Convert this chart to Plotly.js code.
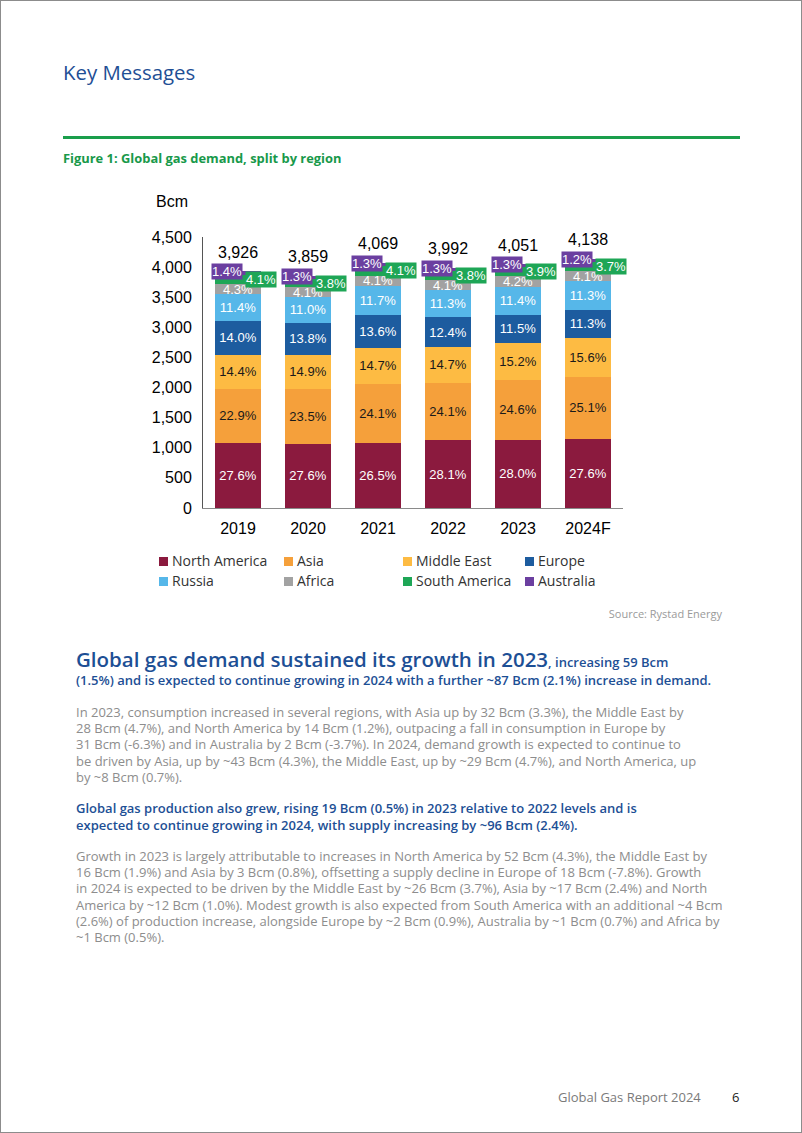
<!DOCTYPE html>
<html><head><meta charset="utf-8">
<script src="https://cdn.plot.ly/plotly-3.0.1.min.js"></script>
<style>
html,body{margin:0;padding:0;background:#fff;}
#page{position:relative;width:800px;height:1131px;border:1px solid #8c8c8c;overflow:hidden;font-family:"Open Sans","Noto Sans",sans-serif;background:#fff;}
.abs{position:absolute;white-space:nowrap;}
.body{font-size:13px;color:#8d8d8d;line-height:16.2px;}
.sub{font-size:13px;color:#1d4f95;font-weight:600;line-height:17px;}
.leg{position:absolute;font-size:14px;color:#333;line-height:18px;white-space:nowrap;}
.leg span.sq{position:absolute;left:-13px;top:5px;width:9px;height:9px;}
</style></head><body>
<div id="page">
 <div class="abs" style="left:62px;top:56px;font-size:20.4px;color:#1f4f95;line-height:30px;">Key Messages</div>
 <div class="abs" style="left:62px;top:135px;width:677px;height:3px;background:#1a9e4b;"></div>
 <div class="abs" style="left:62px;top:148px;font-size:12.9px;font-weight:700;color:#18994a;line-height:18px;">Figure 1: Global gas demand, split by region</div>
 <div id="chart" class="abs" style="left:0;top:184px;width:800px;height:360px;"></div>
 <div id="legend"></div>
 <div class="abs" style="right:79px;top:605px;font-size:11px;color:#9a9a9a;line-height:16px;">Source: Rystad Energy</div>

 <div class="abs" style="left:75px;top:647px;color:#1d4f95;font-weight:600;line-height:22px;"><span style="font-size:20.5px;">Global gas demand sustained its growth in 2023</span><span style="font-size:13px;">, increasing 59 Bcm</span></div>
 <div class="abs sub" style="left:75px;top:671px;line-height:16px;">(1.5%) and is expected to continue growing in 2024 with a further ~87 Bcm (2.1%) increase in demand.</div>

 <div class="abs body" style="left:75px;top:703px;">In 2023, consumption increased in several regions, with Asia up by 32 Bcm (3.3%), the Middle East by<br>28 Bcm (4.7%), and North America by 14 Bcm (1.2%), outpacing a fall in consumption in Europe by<br>31 Bcm (-6.3%) and in Australia by 2 Bcm (-3.7%). In 2024, demand growth is expected to continue to<br>be driven by Asia, up by ~43 Bcm (4.3%), the Middle East, up by ~29 Bcm (4.7%), and North America, up<br>by ~8 Bcm (0.7%).</div>

 <div class="abs sub" style="left:75px;top:799px;">Global gas production also grew, rising 19 Bcm (0.5%) in 2023 relative to 2022 levels and is<br>expected to continue growing in 2024, with supply increasing by ~96 Bcm (2.4%).</div>

 <div class="abs body" style="left:75px;top:847px;">Growth in 2023 is largely attributable to increases in North America by 52 Bcm (4.3%), the Middle East by<br>16 Bcm (1.9%) and Asia by 3 Bcm (0.8%), offsetting a supply decline in Europe of 18 Bcm (-7.8%). Growth<br>in 2024 is expected to be driven by the Middle East by ~26 Bcm (3.7%), Asia by ~17 Bcm (2.4%) and North<br>America by ~12 Bcm (1.0%). Modest growth is also expected from South America with an additional ~4 Bcm<br>(2.6%) of production increase, alongside Europe by ~2 Bcm (0.9%), Australia by ~1 Bcm (0.7%) and Africa by<br>~1 Bcm (0.5%).</div>

 <div class="abs" style="left:557px;top:1087px;font-size:13px;color:#7a7a7a;line-height:18px;">Global Gas Report 2024</div>
 <div class="abs" style="left:731px;top:1087px;font-size:13px;color:#222;line-height:18px;">6</div>
</div>
<script>
// ---- data (Bcm) ----
const years = ['2019','2020','2021','2022','2023','2024F'];
const totals = [3926, 3859, 4069, 3992, 4051, 4138];
const northAmerica = [1084, 1065, 1078, 1122, 1134, 1142];
const asia         = [899, 907, 981, 962, 997, 1039];
const middleEast   = [565, 575, 598, 587, 616, 646];
const europe       = [550, 533, 553, 495, 466, 468];
const russia       = [448, 424, 476, 451, 462, 468];
const africa       = [169, 158, 167, 164, 170, 170];
const southAmerica = [161, 147, 167, 152, 158, 153];
const australia    = [55, 50, 53, 52, 53, 50];
// shares (%) shown as labels
const shareNorthAmerica = [27.6, 27.6, 26.5, 28.1, 28.0, 27.6];
const shareAsia         = [22.9, 23.5, 24.1, 24.1, 24.6, 25.1];
const shareMiddleEast   = [14.4, 14.9, 14.7, 14.7, 15.2, 15.6];
const shareEurope       = [14.0, 13.8, 13.6, 12.4, 11.5, 11.3];
const shareRussia       = [11.4, 11.0, 11.7, 11.3, 11.4, 11.3];
const shareAfrica       = [4.3, 4.1, 4.1, 4.1, 4.2, 4.1];
const shareSouthAmerica = [4.1, 3.8, 4.1, 3.8, 3.9, 3.7];
const shareAustralia    = [1.4, 1.3, 1.3, 1.3, 1.3, 1.2];
const seriesNames = ['North America','Asia','Middle East','Europe','Russia','Africa','South America','Australia'];
const yTicks = [0, 500, 1000, 1500, 2000, 2500, 3000, 3500, 4000, 4500];

// ---- styling ----
const values = [northAmerica, asia, middleEast, europe, russia, africa, southAmerica, australia];
const shares = [shareNorthAmerica, shareAsia, shareMiddleEast, shareEurope, shareRussia, shareAfrica, shareSouthAmerica, shareAustralia];
const colors = ['#8b1a3e','#f5a03b','#fdbb43','#1d5c9f','#56b7e9','#a2a2a2','#1ea656','#6b3fa0'];
const textColors = ['#ffffff','#1a1a1a','#1a1a1a','#ffffff','#ffffff','#ffffff','#ffffff','#ffffff'];
const FONT = 'Liberation Sans, Arial, sans-serif';
const fmt = v => v.toFixed(1) + '%';

const traces = values.map((vals, k) => {
  const inside = k < 6;
  return {
    type: 'bar', x: years, y: vals, name: seriesNames[k],
    marker: {color: colors[k], line: {width: 0}},
    text: inside ? shares[k].map(fmt) : null,
    textposition: inside ? 'inside' : 'none',
    insidetextanchor: 'middle',
    textangle: 0,
    constraintext: 'none',
    textfont: {family: FONT, size: 13, color: textColors[k]},
    hoverinfo: 'skip', showlegend: false
  };
});

const annotations = [];
// totals above bars (x given as category index)
years.forEach((yr, i) => {
  annotations.push({x: i, y: totals[i], xref: 'x', yref: 'y', text: totals[i].toLocaleString('en-US'),
    showarrow: false, yanchor: 'middle', yshift: 19, font: {family: FONT, size: 16, color: '#000'}});
});
// labels for small segments (South America, Australia)
years.forEach((yr, i) => {
  let base = 0;
  for (let k = 0; k < 6; k++) base += values[k][i];
  const saMid = base + southAmerica[i] / 2;
  const auMid = base + southAmerica[i] + australia[i] / 2;
  annotations.push({x: i, y: saMid, xref: 'x', yref: 'y', text: fmt(shareSouthAmerica[i]), showarrow: false,
    xshift: 23, bgcolor: colors[6], borderpad: 0, font: {family: FONT, size: 13, color: '#fff'}});
  annotations.push({x: i, y: auMid, xref: 'x', yref: 'y', text: fmt(shareAustralia[i]), showarrow: false,
    xshift: -11, yshift: 1, bgcolor: colors[7], borderpad: 0, font: {family: FONT, size: 13, color: '#fff'}});
});
// unit label
annotations.push({xref: 'paper', yref: 'paper', x: -0.117, y: 1.13, xanchor: 'left', yanchor: 'middle',
  text: 'Bcm', showarrow: false, font: {family: FONT, size: 16, color: '#000'}});

const layout = {
  width: 800, height: 360,
  margin: {l: 202, r: 178, t: 52, b: 37, pad: 0},
  barmode: 'stack', bargap: 0.33,
  paper_bgcolor: 'rgba(0,0,0,0)', plot_bgcolor: 'rgba(0,0,0,0)',
  showlegend: false,
  font: {family: FONT, size: 16, color: '#000'},
  xaxis: {type: 'category', range: [-0.5, 5.5], autorange: false, showline: true, linecolor: '#8a8a8a', linewidth: 1,
          ticks: '', showgrid: false, zeroline: false, tickfont: {family: FONT, size: 16, color: '#000'},
          ticklabelstandoff: 6, fixedrange: true},
  yaxis: {range: [0, 4500], autorange: false, tickvals: yTicks, ticktext: yTicks.map(v => v.toLocaleString('en-US')),
          showline: true, linecolor: '#555', linewidth: 1, ticks: '', showgrid: false, zeroline: false,
          tickfont: {family: FONT, size: 16, color: '#000'}, ticklabelstandoff: 7, fixedrange: true},
  annotations: annotations
};
Plotly.newPlot('chart', traces, layout, {displayModeBar: false, staticPlot: true});

// legend built from the series names/colours
const legLeft = [171, 296, 415, 537];
const legTop = [551, 571];
const legend = document.getElementById('legend');
seriesNames.forEach((n, k) => {
  const d = document.createElement('div');
  d.className = 'leg';
  d.style.left = legLeft[k % 4] + 'px';
  d.style.top = legTop[Math.floor(k / 4)] + 'px';
  d.innerHTML = '<span class="sq" style="background:' + colors[k] + '"></span>' + n;
  legend.appendChild(d);
});
</script>
</body></html>
